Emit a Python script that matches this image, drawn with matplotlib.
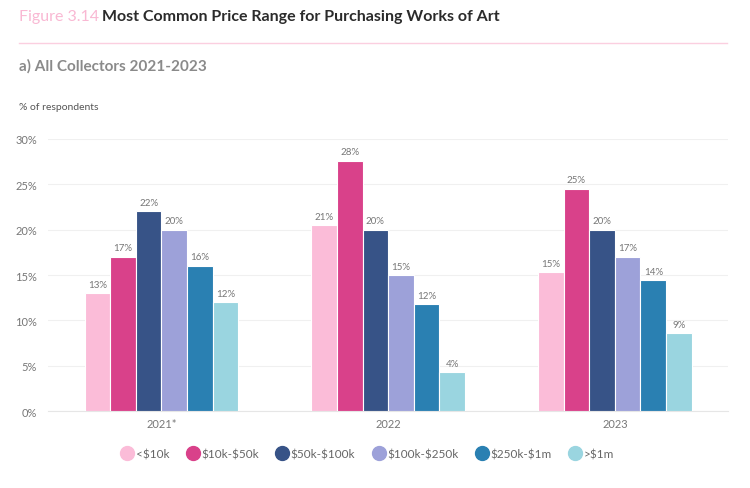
import matplotlib

matplotlib.use("Agg")

import matplotlib.pyplot as plt  # noqa: E402
import numpy as np  # noqa: E402
from matplotlib.lines import Line2D  # noqa: E402

# data
years = ["2021*", "2022", "2023"]
ranges = ["<$10k", "$10k-$50k", "$50k-$100k", "$100k-$250k", "$250k-$1m", ">$1m"]
values = {
    "<$10k": [13.0, 20.5, 15.3],
    "$10k-$50k": [17.0, 27.6, 24.5],
    "$50k-$100k": [22.0, 20.0, 20.0],
    "$100k-$250k": [20.0, 15.0, 17.0],
    "$250k-$1m": [16.0, 11.8, 14.4],
    ">$1m": [12.0, 4.3, 8.6],
}
labels = {
    "<$10k": ["13%", "21%", "15%"],
    "$10k-$50k": ["17%", "28%", "25%"],
    "$50k-$100k": ["22%", "20%", "20%"],
    "$100k-$250k": ["20%", "15%", "17%"],
    "$250k-$1m": ["16%", "12%", "14%"],
    ">$1m": ["12%", "4%", "9%"],
}
colors = ["#fbbcd8", "#d9418a", "#375387", "#9da1d9", "#2a80b2", "#9ad5e0"]

plt.rcParams["font.family"] = ["Lato", "DejaVu Sans"]
plt.rcParams["text.parse_math"] = False  # dollar signs are literal

fig = plt.figure(figsize=(7.5, 4.89), dpi=100)
ax = fig.add_axes([0.064, 0.157, 0.907, 0.557])

x = np.arange(len(years))
width = 0.113
for i, (name, color) in enumerate(zip(ranges, colors)):
    offs = (i - (len(ranges) - 1) / 2) * width
    bars = ax.bar(x + offs, values[name], width, color=color,
                  edgecolor="white", linewidth=0.8, zorder=3)
    for b, lab in zip(bars, labels[name]):
        ax.text(b.get_x() + b.get_width() / 2, b.get_height() + 0.5, lab,
                ha="center", va="bottom", fontsize=7, color="#777777")

ax.set_xlim(-0.5, 2.5)
ax.set_ylim(0, 30)
ax.set_yticks(range(0, 31, 5))
ax.set_yticklabels([f"{v}%" for v in range(0, 31, 5)])
ax.set_xticks(x)
ax.set_xticklabels(years)
ax.tick_params(axis="both", length=0, labelsize=8, labelcolor="#777777")
ax.tick_params(axis="y", pad=8)
ax.tick_params(axis="x", pad=5)
ax.grid(axis="y", color="#f0f0f0", linewidth=0.8, zorder=0)
for side in ["top", "right", "left"]:
    ax.spines[side].set_visible(False)
ax.spines["bottom"].set_color("#e6e6e6")

# header
fig.text(19 / 750, 1 - 17 / 489, "Figure 3.14", color="#f9b8d3",
         fontsize=11.5, va="center", ha="left")
fig.text(102 / 750, 1 - 17 / 489, "Most Common Price Range for Purchasing Works of Art",
         color="#2b2b2b", fontsize=11.5, fontweight="bold", va="center", ha="left")
fig.add_artist(Line2D([19 / 750, 727 / 750], [1 - 44 / 489, 1 - 44 / 489],
                      color="#fbcfe0", linewidth=1))
fig.text(19 / 750, 1 - 66 / 489, "a) All Collectors 2021-2023", color="#8a8a8a",
         fontsize=11, fontweight="bold", va="center", ha="left")
fig.text(19 / 750, 1 - 107 / 489, "% of respondents", color="#555555",
         fontsize=7.5, va="center", ha="left")

handles = [Line2D([], [], marker="o", linestyle="", markersize=10,
                  markerfacecolor=c, markeredgecolor=c) for c in colors]
fig.legend(handles, ranges, loc="center", ncol=6, frameon=False,
           bbox_to_anchor=(367 / 750, 1 - 455 / 489), fontsize=8.5,
           labelcolor="#666666", handletextpad=0.1, columnspacing=1.4,
           handlelength=1.2)

fig.savefig("out.png", dpi=100, facecolor="white")
